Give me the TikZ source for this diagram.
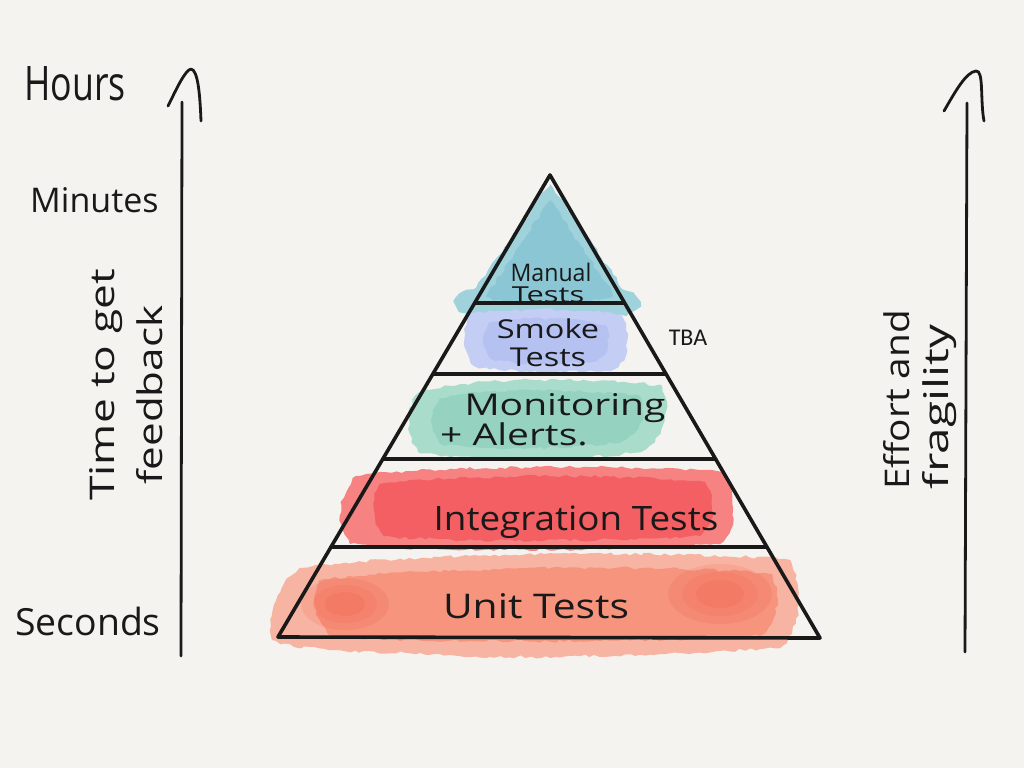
\documentclass[tikz,border=0pt]{standalone}
\usepackage{fontspec}
\setmainfont{Open Sans}
\newfontfamily\tbafont{Carlito}
\usetikzlibrary{calc,decorations.pathmorphing}
\definecolor{bg}{RGB}{244,243,240}
\definecolor{ink}{RGB}{25,25,25}
\definecolor{tealA}{RGB}{160,210,220}
\definecolor{tealB}{RGB}{118,188,204}
\definecolor{lavA}{RGB}{196,205,244}
\definecolor{lavB}{RGB}{168,182,240}
\definecolor{mintA}{RGB}{170,220,204}
\definecolor{mintB}{RGB}{130,203,182}
\definecolor{redA}{RGB}{246,130,130}
\definecolor{redB}{RGB}{242,72,78}
\definecolor{unitA}{RGB}{248,180,162}
\definecolor{unitB}{RGB}{246,128,102}
\definecolor{unitC}{RGB}{240,84,60}
\tikzset{
  wash/.style={decorate, decoration={random steps, segment length=5pt, amplitude=1.5pt}},
  spot/.style={fill=unitC, fill opacity=0.14},
  outline/.style={draw=ink, line width=3.6pt, line join=round, line cap=round},
  axis/.style={draw=ink, line width=2.8pt, line cap=round, line join=round},
  hand/.style={text=ink, inner sep=0pt, font=\fontsize{34}{40}\selectfont},
  lab/.style={text=ink, inner sep=0pt, anchor=base},
}
\begin{document}
\pgfmathsetseed{7}
\begin{tikzpicture}[x=1pt,y=-1pt]
\useasboundingbox (0,0) rectangle (1024,768);
\fill[bg] (0,0) rectangle (1024,768);

% ---------- washes ----------
% Manual (teal)
\fill[tealA, wash] (550,184) -- (624,290) .. controls (648,298) and (645,316) .. (605,317)
   .. controls (560,319) and (500,320) .. (463,313) .. controls (448,306) and (452,292) .. (476,288) -- cycle;
\fill[tealB, wash, fill opacity=0.5] (550,200) -- (612,292) .. controls (615,304) and (500,308) .. (486,296) -- cycle;
% Smoke (lavender)
\fill[lavA, wash] (470,314) .. controls (500,308) and (600,308) .. (622,316)
   .. controls (632,340) and (628,366) .. (610,370) .. controls (560,374) and (500,372) .. (474,366)
   .. controls (462,350) and (462,325) .. (470,314) -- cycle;
\fill[lavB, wash, fill opacity=0.5] (490,322) .. controls (530,316) and (590,318) .. (606,326)
   .. controls (612,345) and (606,360) .. (590,362) .. controls (550,365) and (505,364) .. (490,358)
   .. controls (482,345) and (482,330) .. (490,322) -- cycle;
% Monitoring (mint)
\fill[mintA, wash] (420,392) .. controls (460,378) and (600,376) .. (662,386)
   .. controls (672,410) and (664,440) .. (640,452) .. controls (560,462) and (470,462) .. (418,452)
   .. controls (404,430) and (406,405) .. (420,392) -- cycle;
\fill[mintB, wash, fill opacity=0.5] (440,398) .. controls (480,388) and (590,388) .. (640,396)
   .. controls (648,415) and (640,436) .. (620,442) .. controls (560,450) and (480,450) .. (440,444)
   .. controls (430,428) and (430,410) .. (440,398) -- cycle;
% Integration (red)
\fill[redA, wash] (356,476) .. controls (420,466) and (640,464) .. (722,472)
   .. controls (738,495) and (738,530) .. (720,544) .. controls (600,552) and (420,552) .. (350,544)
   .. controls (336,525) and (336,500) .. (356,476) -- cycle;
\fill[redB, wash, fill opacity=0.6] (380,484) .. controls (440,474) and (630,474) .. (705,482)
   .. controls (716,500) and (714,526) .. (700,536) .. controls (600,542) and (440,542) .. (384,536)
   .. controls (370,520) and (370,498) .. (380,484) -- cycle;
% Unit (orange-red)
\fill[unitA, wash] (300,568) .. controls (400,552) and (700,550) .. (790,560)
   .. controls (805,590) and (800,630) .. (780,648) .. controls (650,656) and (500,660) .. (440,654)
   .. controls (380,652) and (300,652) .. (272,640) .. controls (266,615) and (276,585) .. (300,568) -- cycle;
\fill[unitB, wash, fill opacity=0.6] (320,580) .. controls (420,566) and (680,564) .. (772,574)
   .. controls (782,600) and (776,626) .. (760,636) .. controls (650,642) and (420,644) .. (330,636)
   .. controls (314,620) and (312,596) .. (320,580) -- cycle;
\fill[spot] (345,604) ellipse (44 and 26);
\fill[spot] (345,604) ellipse (32 and 19);
\fill[spot] (345,604) ellipse (20 and 12);
\fill[spot] (720,594) ellipse (52 and 30);
\fill[spot] (720,594) ellipse (38 and 22);
\fill[spot] (720,594) ellipse (24 and 14);

% ---------- pyramid ----------
\coordinate (apex) at (550,175);
\coordinate (bl) at (278,637);
\coordinate (br) at (820,638);
\coordinate (l1) at ($(apex)!0.2771!(bl)$); \coordinate (r1) at ($(apex)!0.2765!(br)$);
\coordinate (l2) at ($(apex)!0.4307!(bl)$); \coordinate (r2) at ($(apex)!0.4298!(br)$);
\coordinate (l3) at ($(apex)!0.6147!(bl)$); \coordinate (r3) at ($(apex)!0.6134!(br)$);
\coordinate (l4) at ($(apex)!0.8052!(bl)$); \coordinate (r4) at ($(apex)!0.8035!(br)$);
\draw[outline] (apex) -- (bl) -- (br) -- cycle;
\draw[outline] (l1) -- (r1);
\draw[outline] (l2) -- (r2);
\draw[outline] (l3) -- (r3);
\draw[outline] (l4) -- (r4);

% ---------- pyramid labels ----------
\node[lab, font=\fontsize{22}{26}\selectfont] (manual) at (551,281) {\scalebox{1.05}[1.1]{Manual}};
\node[lab, font=\fontsize{22}{26}\selectfont] (manualt) at (548,302) {\scalebox{1.4}[1]{Tests}};
\node[lab, font=\fontsize{26}{30}\selectfont] (smoke) at (548,338) {\scalebox{1.25}[1]{Smoke}};
\node[lab, font=\fontsize{26}{30}\selectfont] (smoket) at (548,366) {\scalebox{1.25}[1]{Tests}};
\node[lab, font=\fontsize{30}{34}\selectfont] (monit) at (565,415) {\scalebox{1.3}[1]{Monitoring}};
\node[lab, font=\fontsize{30}{34}\selectfont] (alerts) at (514,445) {\scalebox{1.3}[1]{+ Alerts.}};
\node[lab, font=\fontsize{32}{36}\selectfont] (integ) at (576,530) {\scalebox{1.15}[1.05]{Integration Tests}};
\node[lab, font=\fontsize{34}{38}\selectfont] (unit) at (536,618) {\scalebox{1.2}[1]{Unit Tests}};
\node[text=ink, inner sep=0pt, font=\tbafont\fontsize{24}{28}\selectfont] (tba) at (688,338) {TBA};

% ---------- left axis ----------
\coordinate (lbot) at (181,656);
\coordinate (ltop) at (182,102);
\coordinate (lhl) at (168,106);
\coordinate (lha) at (191,69);
\coordinate (lhr) at (201,121);
\draw[axis] (lbot) -- (ltop);
\draw[axis] (lhl) .. controls (176,90) and (185,70) .. (lha) .. controls (198,70) and (200,95) .. (lhr);

\node[hand, anchor=base west] (hours) at (24,100) {\scalebox{1.05}[1.4]{Hours}};
\node[hand, anchor=base west] (minutes) at (30,212) {Minutes};
\node[hand, anchor=base west] (seconds) at (15,635) {\scalebox{1.1}[1.1]{Seconds}};
\node[hand, rotate=90] (time) at (106,385) {\scalebox{1.3}[1]{Time to get}};
\node[hand, rotate=90] (feedback) at (150,395) {\scalebox{1.24}[1]{feedback}};

% ---------- right axis ----------
\coordinate (rbot) at (965,652);
\coordinate (rtop) at (967,103);
\coordinate (rhl) at (944,111);
\coordinate (rha) at (976,71);
\coordinate (rhr) at (984,121);
\draw[axis] (rbot) -- (rtop);
\draw[axis] (rhl) .. controls (955,92) and (966,72) .. (rha) .. controls (984,70) and (980,100) .. (rhr);

\node[hand, rotate=90] (effort) at (897,400) {\scalebox{1.14}[1]{Effort and}};
\node[hand, rotate=90] (fragility) at (940,407) {\scalebox{1.4}[1]{fragility}};
\end{tikzpicture}
\end{document}
